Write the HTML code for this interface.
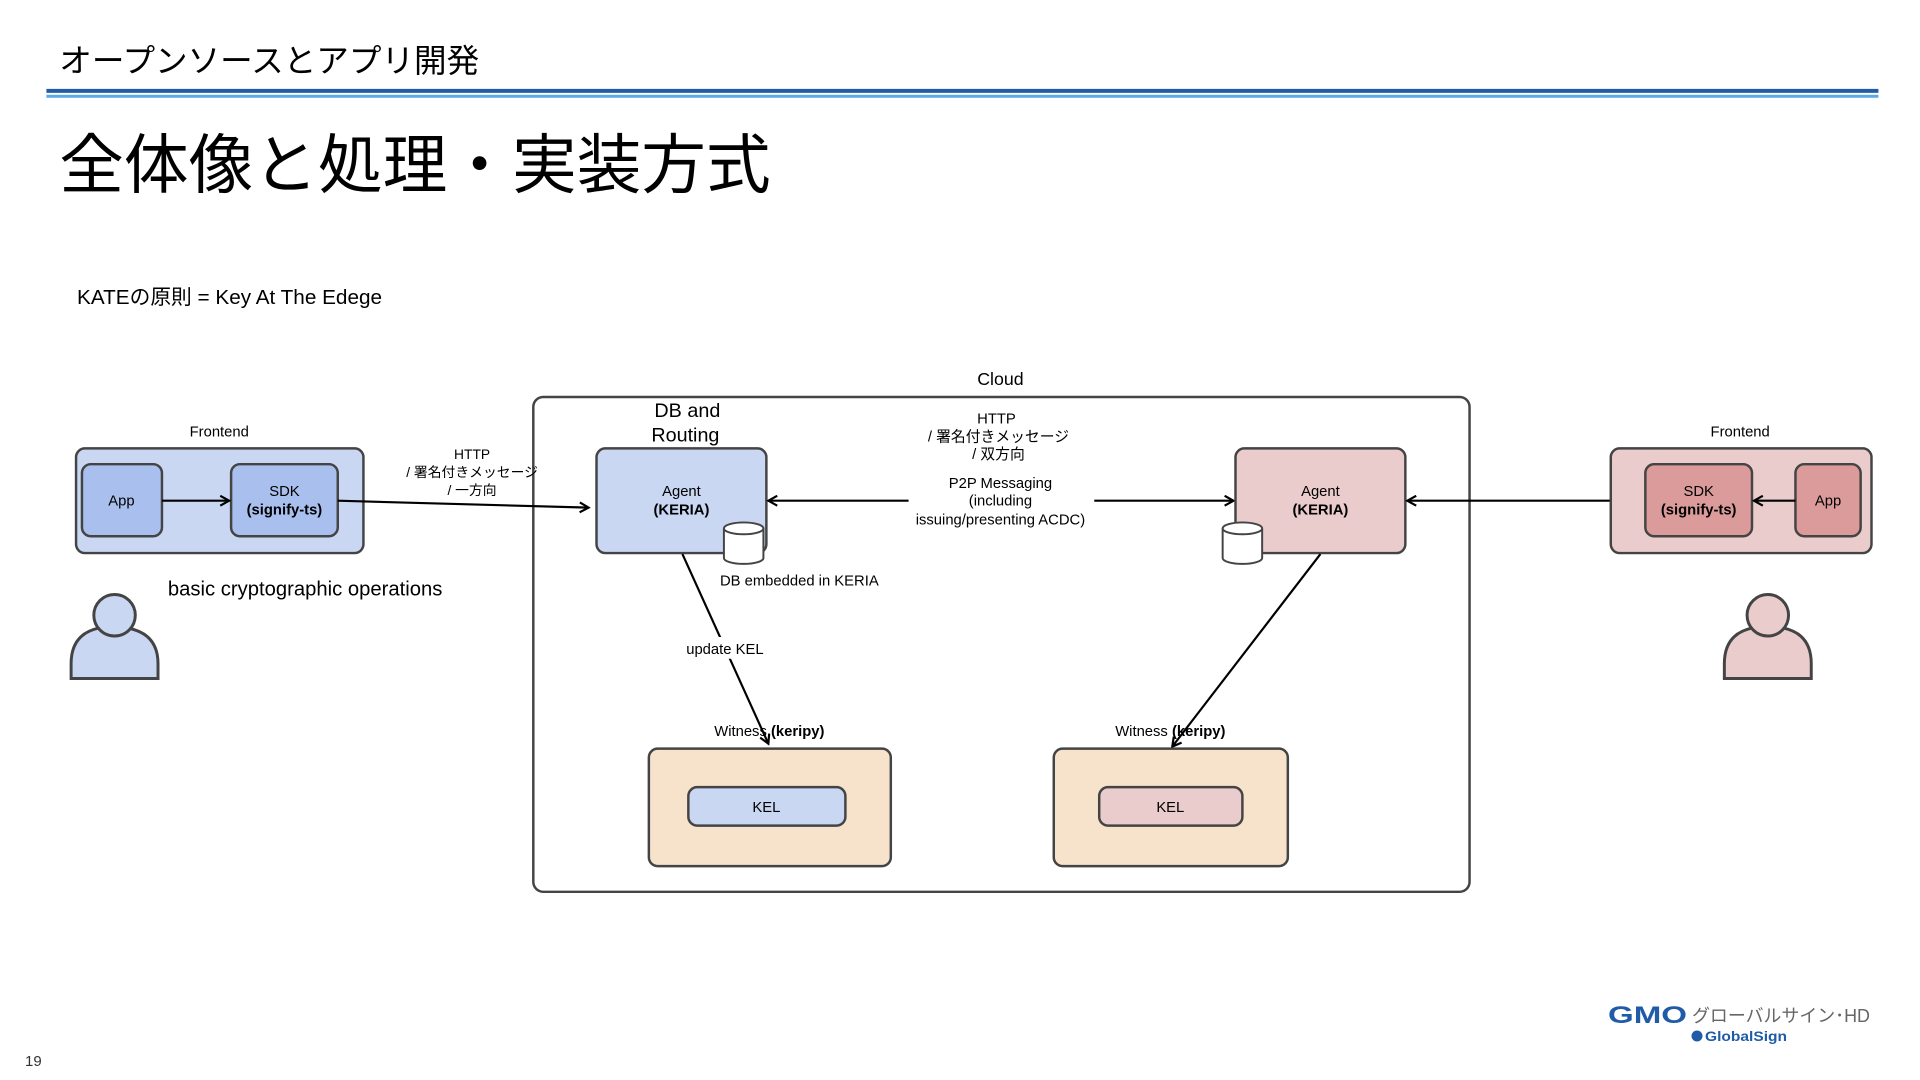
<!DOCTYPE html>
<html><head><meta charset="utf-8"><style>
html,body{margin:0;padding:0;background:#fff;}
svg{display:block;}
text{font-family:"Liberation Sans","Noto Sans CJK JP",sans-serif;fill:#000;}
</style></head><body>
<svg width="1920" height="1080" viewBox="0 0 1920 1080" xmlns="http://www.w3.org/2000/svg">
<defs>
<marker id="ar" markerWidth="12" markerHeight="12" refX="10" refY="6" orient="auto" markerUnits="userSpaceOnUse">
<path d="M1,1 L10,6 L1,11" fill="none" stroke="#000" stroke-width="2.2"/>
</marker>
</defs>
<g transform="scale(0.9876)">
<text x="60" y="73" font-size="33">オープンソースとアプリ開発</text>
<rect x="47" y="90" width="1855" height="4" fill="#1f5ba6"/>
<rect x="47" y="96" width="1855" height="3" fill="#5aa9e6"/>
<text x="60" y="190" font-size="65.5">全体像と処理・実装方式</text>
<text x="78" y="308" font-size="21">KATEの原則 = Key At The Edege</text>

<text x="1013" y="390" font-size="18" text-anchor="middle">Cloud</text>
<rect x="540" y="402" width="948" height="501" rx="10" fill="none" stroke="#444" stroke-width="2.5"/>

<text x="222" y="442" font-size="15" text-anchor="middle">Frontend</text>
<rect x="77" y="454" width="291" height="106" rx="9" fill="#c9d7f3" stroke="#444" stroke-width="2.5"/>
<rect x="83" y="470" width="81" height="73" rx="9" fill="#a9c0ee" stroke="#444" stroke-width="2.5"/>
<text x="123" y="512" font-size="15" text-anchor="middle">App</text>
<rect x="234" y="470" width="108" height="73" rx="9" fill="#a9c0ee" stroke="#444" stroke-width="2.5"/>
<text x="288" y="502" font-size="15" text-anchor="middle">SDK</text>
<text x="288" y="521" font-size="15" font-weight="bold" text-anchor="middle">(signify-ts)</text>
<line x1="164" y1="507" x2="232" y2="507" stroke="#000" stroke-width="2.2" marker-end="url(#ar)"/>

<line x1="342" y1="507" x2="596" y2="514" stroke="#000" stroke-width="2.2" marker-end="url(#ar)"/>
<text x="478" y="465" font-size="14" text-anchor="middle">HTTP</text>
<text x="478" y="483" font-size="14" text-anchor="middle">/ 署名付きメッセージ</text>
<text x="478" y="501" font-size="14" text-anchor="middle">/ 一方向</text>

<text x="170" y="603" font-size="20.5">basic cryptographic operations</text>
<path d="M72,687 L72,672 Q72,642 100,636 L130,636 Q160,642 160,672 L160,687 Z" fill="#c9d7f3" stroke="#444" stroke-width="3"/>
<circle cx="116" cy="623" r="21" fill="#c9d7f3" stroke="#444" stroke-width="3"/>

<text x="696" y="422" font-size="20" text-anchor="middle">DB and</text>
<text x="694" y="447" font-size="20" text-anchor="middle">Routing</text>
<rect x="604" y="454" width="172" height="106" rx="9" fill="#c9d7f3" stroke="#444" stroke-width="2.5"/>
<text x="690" y="502" font-size="15" text-anchor="middle">Agent</text>
<text x="690" y="521" font-size="15" font-weight="bold" text-anchor="middle">(KERIA)</text>
<g fill="#fff" stroke="#444" stroke-width="2">
<path d="M733,535 L733,565 A20,6 0 0 0 773,565 L773,535"/>
<ellipse cx="753" cy="535" rx="20" ry="6"/>
</g>
<text x="729" y="593" font-size="15">DB embedded in KERIA</text>

<line x1="691" y1="561" x2="778" y2="753" stroke="#000" stroke-width="2.2" marker-end="url(#ar)"/>
<rect x="690" y="645" width="88" height="22" fill="#fff"/>
<text x="734" y="662" font-size="15" text-anchor="middle">update KEL</text>

<text x="779" y="745" font-size="15" text-anchor="middle">Witness <tspan font-weight="bold">(keripy)</tspan></text>
<rect x="657" y="758" width="245" height="119" rx="9" fill="#f7e3cc" stroke="#444" stroke-width="2.5"/>
<rect x="697" y="797" width="159" height="39" rx="9" fill="#c9d7f3" stroke="#444" stroke-width="2.5"/>
<text x="776" y="822" font-size="15" text-anchor="middle">KEL</text>

<line x1="920" y1="507" x2="778" y2="507" stroke="#000" stroke-width="2.2" marker-end="url(#ar)"/>
<line x1="1108" y1="507" x2="1249" y2="507" stroke="#000" stroke-width="2.2" marker-end="url(#ar)"/>
<g font-size="15" text-anchor="middle">
<text x="1009" y="429">HTTP</text>
<text x="1011" y="447">/ 署名付きメッセージ</text>
<text x="1011" y="465">/ 双方向</text>
<text x="1013" y="494">P2P Messaging</text>
<text x="1013" y="512">(including</text>
<text x="1013" y="531">issuing/presenting ACDC)</text>
</g>

<rect x="1251" y="454" width="172" height="106" rx="9" fill="#ebcccc" stroke="#444" stroke-width="2.5"/>
<text x="1337" y="502" font-size="15" text-anchor="middle">Agent</text>
<text x="1337" y="521" font-size="15" font-weight="bold" text-anchor="middle">(KERIA)</text>
<g fill="#fff" stroke="#444" stroke-width="2">
<path d="M1238,535 L1238,565 A20,6 0 0 0 1278,565 L1278,535"/>
<ellipse cx="1258" cy="535" rx="20" ry="6"/>
</g>
<line x1="1337" y1="561" x2="1187" y2="756" stroke="#000" stroke-width="2.2" marker-end="url(#ar)"/>
<text x="1185" y="745" font-size="15" text-anchor="middle">Witness <tspan font-weight="bold">(keripy)</tspan></text>
<rect x="1067" y="758" width="237" height="119" rx="9" fill="#f7e3cc" stroke="#444" stroke-width="2.5"/>
<rect x="1113" y="797" width="145" height="39" rx="9" fill="#ebcccc" stroke="#444" stroke-width="2.5"/>
<text x="1185" y="822" font-size="15" text-anchor="middle">KEL</text>

<line x1="1631" y1="507" x2="1425" y2="507" stroke="#000" stroke-width="2.2" marker-end="url(#ar)"/>
<text x="1762" y="442" font-size="15" text-anchor="middle">Frontend</text>
<rect x="1631" y="454" width="264" height="106" rx="9" fill="#ebcccc" stroke="#444" stroke-width="2.5"/>
<rect x="1666" y="470" width="108" height="73" rx="9" fill="#dc9b9b" stroke="#444" stroke-width="2.5"/>
<text x="1720" y="502" font-size="15" text-anchor="middle">SDK</text>
<text x="1720" y="521" font-size="15" font-weight="bold" text-anchor="middle">(signify-ts)</text>
<rect x="1818" y="470" width="66" height="73" rx="9" fill="#dc9b9b" stroke="#444" stroke-width="2.5"/>
<text x="1851" y="512" font-size="15" text-anchor="middle">App</text>
<line x1="1818" y1="507" x2="1776" y2="507" stroke="#000" stroke-width="2.2" marker-end="url(#ar)"/>
<path d="M1746,687 L1746,672 Q1746,642 1774,636 L1806,636 Q1834,642 1834,672 L1834,687 Z" fill="#ebcccc" stroke="#444" stroke-width="3"/>
<circle cx="1790" cy="623" r="21" fill="#ebcccc" stroke="#444" stroke-width="3"/>
</g>

<text x="25" y="1066" font-size="15" style="fill:#333">19</text>
<text x="1608" y="1023" font-size="24" font-weight="bold" textLength="79" lengthAdjust="spacingAndGlyphs" style="fill:#1f5ba6">GMO</text>
<text x="1692" y="1022" font-size="18" textLength="178" lengthAdjust="spacingAndGlyphs" style="fill:#666">グローバルサイン･HD</text>
<circle cx="1697" cy="1036" r="5.5" fill="#1f5ba6"/>
<text x="1705" y="1041" font-size="14" font-weight="bold" textLength="82" lengthAdjust="spacingAndGlyphs" style="fill:#1f5ba6">GlobalSign</text>
</svg>
</body></html>
